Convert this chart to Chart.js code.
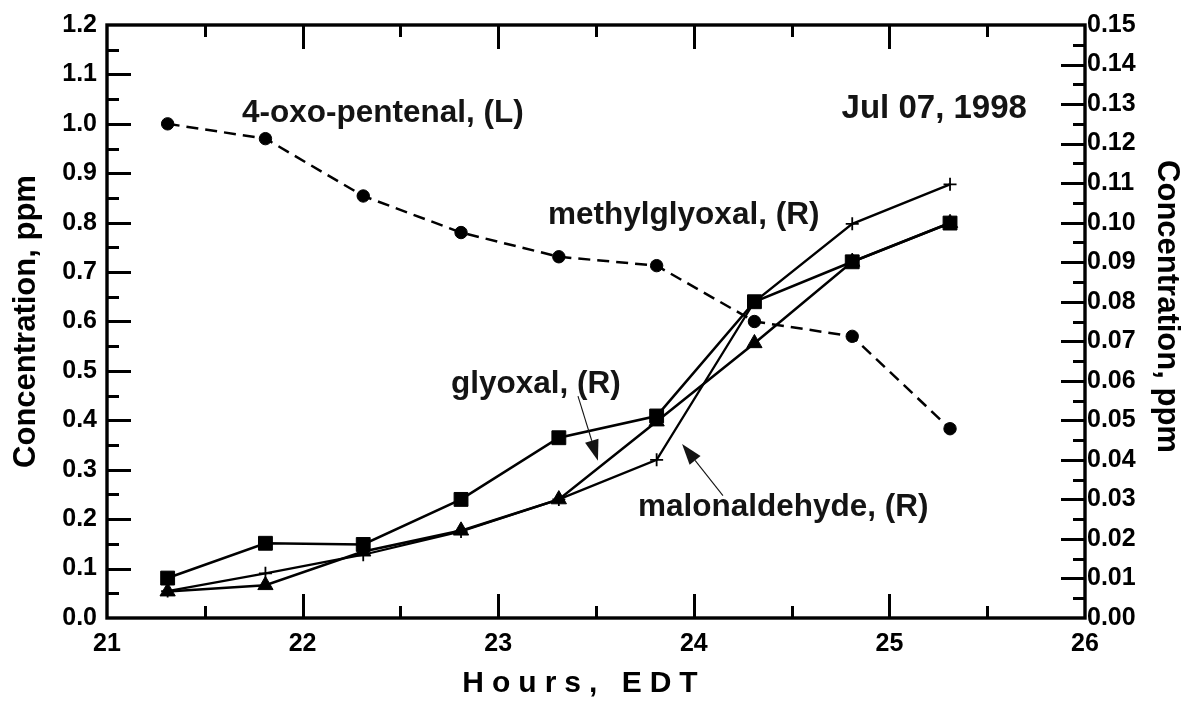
<!DOCTYPE html>
<html><head><meta charset="utf-8">
<script src="https://cdn.jsdelivr.net/npm/chart.js@4.4.1/dist/chart.umd.min.js"></script>
<style>html,body{margin:0;padding:0;background:#fff;} #wrap{width:1185px;height:704px;position:relative;}</style>
</head><body><div id="wrap"><canvas id="c"></canvas></div>
<script>
// ---- data ----
const hours = [21.31, 21.81, 22.31, 22.81, 23.31, 23.81, 24.31, 24.81, 25.31];
const oxoPentenal   = [1.000, 0.970, 0.854, 0.780, 0.731, 0.713, 0.600, 0.570, 0.383]; // left axis
const methylglyoxal = [0.0101, 0.0189, 0.0186, 0.0300, 0.0456, 0.0511, 0.0800, 0.0901, 0.0999]; // right, squares
const glyoxal       = [0.0067, 0.0083, 0.0168, 0.0221, 0.0300, 0.0497, 0.0695, 0.0901, 0.0999]; // right, triangles
const malonaldehyde = [0.0068, 0.0113, 0.0160, 0.0219, 0.0300, 0.0400, 0.0800, 0.0997, 0.1097]; // right, plus
const xTickValues = [21, 22, 23, 24, 25, 26];
const yLeftTickValues = [0, 0.1, 0.2, 0.3, 0.4, 0.5, 0.6, 0.7, 0.8, 0.9, 1.0, 1.1, 1.2];
const yRightTickValues = [0, 0.01, 0.02, 0.03, 0.04, 0.05, 0.06, 0.07, 0.08, 0.09, 0.10, 0.11, 0.12, 0.13, 0.14, 0.15];

// annotations in data coordinates (x = hours, y = left axis value)
const labelTexts = ['4-oxo-pentenal, (L)', 'Jul 07, 1998', 'methylglyoxal, (R)', 'glyoxal, (R)', 'malonaldehyde, (R)'];
const labelX = [21.69, 25.703, 23.255, 22.759, 23.715];
const labelY = [1.0046, 1.0127, 0.798, 0.455, 0.2054];
const labelAlign = ['left', 'right', 'left', 'left', 'left'];
const arrowFrom = [[23.408, 0.449], [24.149, 0.2476]];
const arrowTo   = [[23.510, 0.318], [23.940, 0.3523]];

const FONT = "'Liberation Sans', Arial, Helvetica, sans-serif";
const toPts = ys => hours.map((h, i) => ({x: h, y: ys[i]}));

const framePlugin = {
  id: 'frame',
  afterDatasetsDraw(chart) {
    const ctx = chart.ctx, a = chart.chartArea;
    const sx = chart.scales.x, sy = chart.scales.y, sy2 = chart.scales.y2;
    ctx.save();
    ctx.strokeStyle = '#000';
    ctx.lineWidth = 3;
    ctx.lineCap = 'butt';
    ctx.beginPath();
    for (let v = 21.5; v < 26; v += 0.5) {
      const px = Math.round(sx.getPixelForValue(v)) + 0.5;
      const L = Math.abs(v - Math.round(v)) < 1e-6 ? 24 : 12;
      ctx.moveTo(px, a.bottom); ctx.lineTo(px, a.bottom - L);
      ctx.moveTo(px, a.top); ctx.lineTo(px, a.top + L);
    }
    for (let i = 1; i < 24; i++) {
      const py = Math.round(sy.getPixelForValue(i * 0.05)) + 0.5;
      const L = i % 2 === 0 ? 24 : 12;
      ctx.moveTo(a.left, py); ctx.lineTo(a.left + L, py);
    }
    for (let i = 1; i < 30; i++) {
      const py = Math.round(sy2.getPixelForValue(i * 0.005)) + 0.5;
      const L = i % 2 === 0 ? 24 : 12;
      ctx.moveTo(a.right, py); ctx.lineTo(a.right - L, py);
    }
    ctx.stroke();
    ctx.lineWidth = 3.4;
    ctx.strokeRect(a.left, a.top, a.right - a.left, a.bottom - a.top);

    // annotations
    ctx.fillStyle = '#141414';
    ctx.textBaseline = 'alphabetic';
    labelTexts.forEach((t, i) => {
      ctx.font = 'bold ' + (i === 1 ? 33 : 31.5) + 'px ' + FONT;
      ctx.textAlign = labelAlign[i];
      ctx.fillText(t, sx.getPixelForValue(labelX[i]), sy.getPixelForValue(labelY[i]));
    });
    // arrows
    ctx.lineWidth = 1.1;
    ctx.strokeStyle = '#141414';
    arrowFrom.forEach((f, i) => {
      const x1 = sx.getPixelForValue(f[0]), y1 = sy.getPixelForValue(f[1]);
      const x2 = sx.getPixelForValue(arrowTo[i][0]), y2 = sy.getPixelForValue(arrowTo[i][1]);
      const ang = Math.atan2(y2 - y1, x2 - x1);
      const hl = 21, hw = 7;
      const bx = x2 - hl * Math.cos(ang), by = y2 - hl * Math.sin(ang);
      ctx.beginPath(); ctx.moveTo(x1, y1); ctx.lineTo(bx, by); ctx.stroke();
      ctx.beginPath();
      ctx.moveTo(x2, y2);
      ctx.lineTo(bx + hw * Math.sin(ang), by - hw * Math.cos(ang));
      ctx.lineTo(bx - hw * Math.sin(ang), by + hw * Math.cos(ang));
      ctx.closePath(); ctx.fill();
    });

    // x-axis title with letter spacing
    ctx.fillStyle = '#000';
    ctx.font = 'bold 30px ' + FONT;
    ctx.textAlign = 'left';
    ctx.textBaseline = 'middle';
    try { ctx.letterSpacing = '8px'; } catch (e) {}
    const title = 'Hours, EDT';
    const w = ctx.measureText(title).width - 8;
    const cx = (a.left + a.right) / 2 - 16;
    ctx.fillText(title, cx - w / 2, a.bottom + 66);
    try { ctx.letterSpacing = '0px'; } catch (e) {}

    // right axis title
    ctx.save();
    ctx.font = 'bold 31px ' + FONT;
    ctx.textAlign = 'center';
    ctx.textBaseline = 'middle';
    ctx.translate(chart.width - 18, (a.top + a.bottom) / 2 - 15);
    ctx.rotate(Math.PI / 2);
    ctx.fillText('Concentration, ppm', 0, 0);
    ctx.restore();
    ctx.restore();
  }
};

const common = {borderColor: '#000', backgroundColor: '#000', pointBackgroundColor: '#000', pointBorderColor: '#000', tension: 0, fill: false};

new Chart(document.getElementById('c'), {
  type: 'line',
  data: {
    datasets: [
      Object.assign({label: '4-oxo-pentenal', data: toPts(oxoPentenal), yAxisID: 'y', borderWidth: 2.5, borderDash: [12, 7], pointStyle: 'circle', pointRadius: 6.2, pointBorderWidth: 1}, common),
      Object.assign({label: 'methylglyoxal', data: toPts(methylglyoxal), yAxisID: 'y2', borderWidth: 2.6, pointStyle: 'rect', pointRadius: 9.8, pointBorderWidth: 1}, common),
      Object.assign({label: 'glyoxal', data: toPts(glyoxal), yAxisID: 'y2', borderWidth: 2.6, pointStyle: 'triangle', pointRadius: 8.8, pointBorderWidth: 1}, common),
      Object.assign({label: 'malonaldehyde', data: toPts(malonaldehyde), yAxisID: 'y2', borderWidth: 2.3, pointStyle: 'cross', pointRadius: 6.5, pointBorderWidth: 1.8}, common)
    ]
  },
  options: {
    responsive: true,
    maintainAspectRatio: false,
    animation: false,
    layout: {padding: {top: 22, left: 0, right: 0, bottom: 0}},
    plugins: {legend: {display: false}, tooltip: {enabled: false}},
    scales: {
      x: {
        type: 'linear', min: 21, max: 26,
        afterBuildTicks: s => { s.ticks = xTickValues.map(v => ({value: v})); },
        ticks: {autoSkip: false, maxRotation: 0, color: '#000', padding: 11, font: {family: FONT, size: 25, weight: 'bold'}, callback: v => String(v)},
        grid: {display: false, drawTicks: false},
        border: {display: false},
        afterFit: s => { s.height = 86; }
      },
      y: {
        type: 'linear', position: 'left', min: 0, max: 1.2,
        afterBuildTicks: s => { s.ticks = yLeftTickValues.map(v => ({value: v})); },
        ticks: {autoSkip: false, color: '#000', padding: 10, font: {family: FONT, size: 25, weight: 'bold'}, callback: v => Number(v).toFixed(1)},
        grid: {display: false, drawTicks: false},
        border: {display: false},
        title: {display: true, text: 'Concentration, ppm', color: '#000', font: {family: FONT, size: 31, weight: 'bold'}, padding: {top: 8, bottom: 0}},
        afterFit: s => { s.width = 107; }
      },
      y2: {
        type: 'linear', position: 'right', min: 0, max: 0.15,
        afterBuildTicks: s => { s.ticks = yRightTickValues.map(v => ({value: v})); },
        ticks: {autoSkip: false, color: '#000', padding: 2, font: {family: FONT, size: 25, weight: 'bold'}, callback: v => Number(v).toFixed(2)},
        grid: {display: false, drawTicks: false},
        border: {display: false},
        title: {display: false},
        afterFit: s => { s.width = 100; }
      }
    }
  },
  plugins: [framePlugin]
});
</script>
</body></html>
